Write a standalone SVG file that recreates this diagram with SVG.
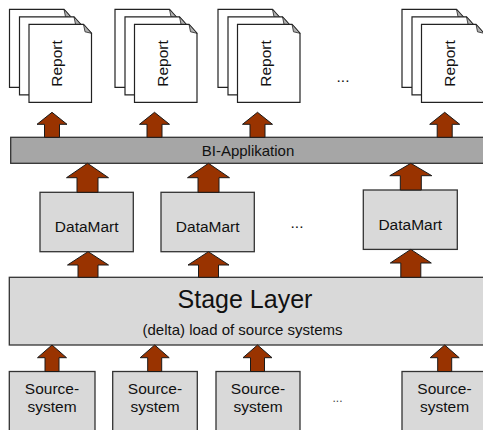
<svg xmlns="http://www.w3.org/2000/svg" width="483" height="430" viewBox="0 0 483 430">
<style>
.sheet{fill:#fff;stroke:#222;stroke-width:1.2}
.fold{fill:#b0b0b0;stroke:#222;stroke-width:0.8}
.box{fill:#d9d9d9;stroke:#333;stroke-width:1.3}
.bar{fill:#a6a6a6;stroke:#333;stroke-width:1.3}
.arr{fill:#993300;stroke:#1a1a1a;stroke-width:1}
.t{font-family:"Liberation Sans",Arial,sans-serif;font-size:15.5px;fill:#111;text-anchor:middle}
</style>
<defs>
<g id="sheet">
<path class="sheet" d="M0,0 H54.5 L62.5,9 V78 H0 Z"/>
<path class="fold" d="M54.5,0 L62.5,9 L56,7.5 Z"/>
</g>
<g id="stack">
<use href="#sheet" x="0" y="0"/>
<use href="#sheet" x="10" y="7.5"/>
<use href="#sheet" x="19.5" y="15"/>
<text class="t" transform="translate(52.8,54.2) rotate(-90)">Report</text>
</g>
</defs>

<g id="report1"><use href="#stack" x="9.5" y="9.3"/></g>
<g id="report2"><use href="#stack" x="115" y="9.3"/></g>
<g id="report3"><use href="#stack" x="218" y="9.3"/></g>
<g id="report4"><use href="#stack" x="402" y="9.3"/></g>
<text class="t" x="343" y="82">...</text>

<g id="bi">
<rect class="bar" x="10.7" y="137.3" width="480" height="26"/>
<text class="t" x="248" y="156" style="font-size:15px">BI-Applikation</text>
</g>

<g id="dm1"><rect class="box" x="40" y="192.3" width="93.3" height="59.4"/><text class="t" x="86.7" y="231.7">DataMart</text></g>
<g id="dm2"><rect class="box" x="161" y="192.3" width="93.3" height="59.4"/><text class="t" x="207.7" y="231.7">DataMart</text></g>
<g id="dm3"><rect class="box" x="363.3" y="190" width="94" height="59.4"/><text class="t" x="410.3" y="229.5">DataMart</text></g>
<text class="t" x="297" y="228">...</text>

<g id="stage">
<rect class="box" x="9.3" y="277.3" width="480" height="67.7"/>
<text class="t" x="245" y="308.3" style="font-size:25px">Stage Layer</text>
<text class="t" x="242.5" y="334.5" style="font-size:15px">(delta) load of source systems</text>
</g>

<g id="src1"><rect class="box" x="9.3" y="371.5" width="85.7" height="70"/><text class="t" x="52" y="393.5">Source-</text><text class="t" x="52" y="411.7">system</text></g>
<g id="src2"><rect class="box" x="112.7" y="371.5" width="84.6" height="70"/><text class="t" x="155" y="393.5">Source-</text><text class="t" x="155" y="411.7">system</text></g>
<g id="src3"><rect class="box" x="216" y="371.5" width="84" height="70"/><text class="t" x="258" y="393.5">Source-</text><text class="t" x="258" y="411.7">system</text></g>
<g id="src4"><rect class="box" x="402" y="371.5" width="86" height="70"/><text class="t" x="444.5" y="393.5">Source-</text><text class="t" x="444.5" y="411.7">system</text></g>
<text class="t" x="337.5" y="402" style="font-size:12px;fill:#444">...</text>

<g id="connectors">
<path class="arr" d="M52,112.3 L67,124.3 L59.5,124.3 L59.5,137.3 L44.5,137.3 L44.5,124.3 L37,124.3 Z"/>
<path class="arr" d="M154.5,112.3 L169.5,124.3 L162,124.3 L162,137.3 L147,137.3 L147,124.3 L139.5,124.3 Z"/>
<path class="arr" d="M257.5,112.3 L272.5,124.3 L265,124.3 L265,137.3 L250,137.3 L250,124.3 L242.5,124.3 Z"/>
<path class="arr" d="M444.7,112.3 L459.7,124.3 L452.2,124.3 L452.2,137.3 L437.2,137.3 L437.2,124.3 L429.7,124.3 Z"/>
<path class="arr" d="M87.5,163.3 L108.5,177.7 L98,177.7 L98,192.3 L77,192.3 L77,177.7 L66.5,177.7 Z"/>
<path class="arr" d="M208.5,163.3 L229.5,177.7 L219,177.7 L219,192.3 L198,192.3 L198,177.7 L187.5,177.7 Z"/>
<path class="arr" d="M410.8,163.3 L431.8,175.7 L421.3,175.7 L421.3,190 L400.3,190 L400.3,175.7 L389.8,175.7 Z"/>
<path class="arr" d="M88,251.7 L108.5,265 L98,265 L98,277.3 L78,277.3 L78,265 L67.5,265 Z"/>
<path class="arr" d="M208.5,251.7 L229,265 L218.5,265 L218.5,277.3 L198.5,277.3 L198.5,265 L188,265 Z"/>
<path class="arr" d="M410.8,249.4 L431.3,263 L420.8,263 L420.8,277.3 L400.8,277.3 L400.8,263 L390.3,263 Z"/>
<path class="arr" d="M52,345 L66.5,357.7 L59,357.7 L59,371.5 L45,371.5 L45,357.7 L37.5,357.7 Z"/>
<path class="arr" d="M154.7,345 L169.2,357.7 L161.7,357.7 L161.7,371.5 L147.7,371.5 L147.7,357.7 L140.2,357.7 Z"/>
<path class="arr" d="M257.5,345 L272,357.7 L264.5,357.7 L264.5,371.5 L250.5,371.5 L250.5,357.7 L243,357.7 Z"/>
<path class="arr" d="M444.7,345 L459.2,357.7 L451.7,357.7 L451.7,371.5 L437.7,371.5 L437.7,357.7 L430.2,357.7 Z"/>
</g>
</svg>
